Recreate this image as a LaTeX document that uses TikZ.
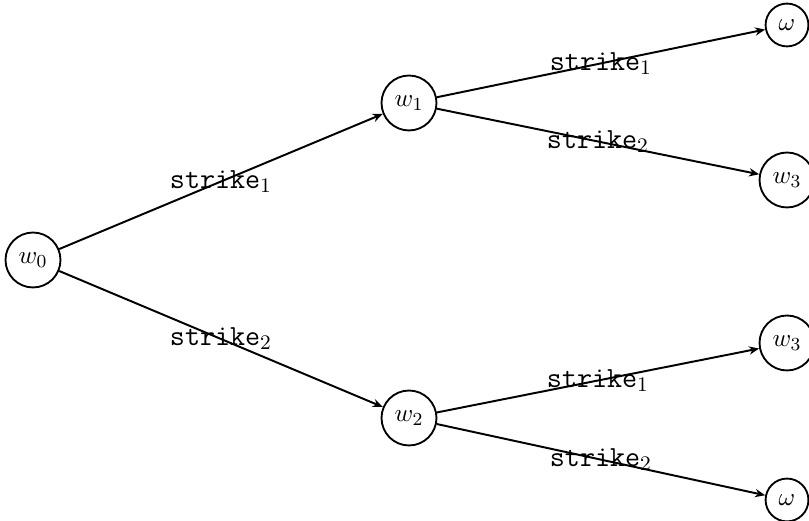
\documentclass[tikz,border=0pt]{standalone}
\usepackage{fontspec}
\usetikzlibrary{arrows.meta}
\begin{document}
\begin{tikzpicture}[x=0.4348pt,y=-0.4348pt,
  state/.style={circle,draw,line width=0.8pt,inner sep=3.6pt,font=\fontsize{10.8}{13}\selectfont},
  edge/.style={line width=0.85pt,-{Stealth[length=4.4pt,width=3.6pt]}},
  lbl/.style={inner sep=0pt,font=\fontsize{12.7}{15}\selectfont}]
\useasboundingbox (0,0) rectangle (809,521);
\node[state] (w0) at (33,260) {$w_0$};
\node[state] (w1) at (409,103) {$w_1$};
\node[state] (w2) at (409,418) {$w_2$};
\node[state] (o1) at (787,25) {$\omega$};
\node[state] (w3a) at (787,180) {$w_3$};
\node[state] (w3b) at (787,343) {$w_3$};
\node[state] (o2) at (787,500) {$\omega$};
\draw[edge] (w0) -- node[lbl]{\texttt{strike}$_1$} (w1);
\draw[edge] (w0) -- node[lbl]{\texttt{strike}$_2$} (w2);
\draw[edge] (w1) -- node[lbl]{\texttt{strike}$_1$} (o1);
\draw[edge] (w1) -- node[lbl]{\texttt{strike}$_2$} (w3a);
\draw[edge] (w2) -- node[lbl]{\texttt{strike}$_1$} (w3b);
\draw[edge] (w2) -- node[lbl]{\texttt{strike}$_2$} (o2);
\end{tikzpicture}
\end{document}
